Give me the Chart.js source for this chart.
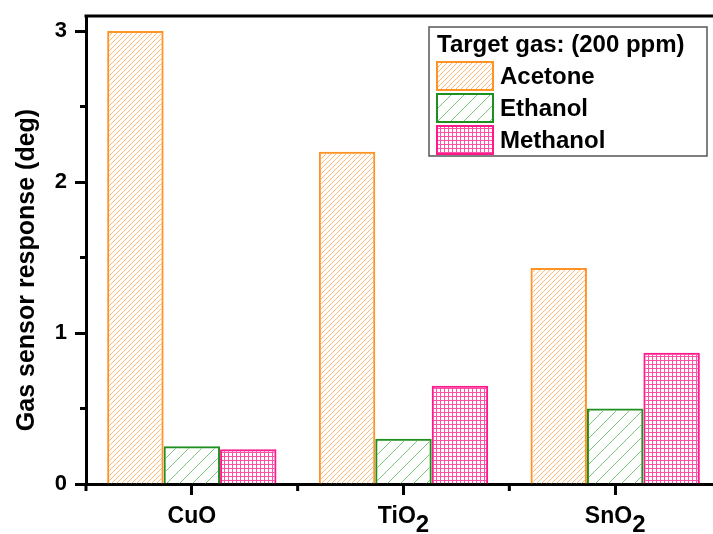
<!DOCTYPE html>
<html>
<head>
<meta charset="utf-8">
<script src="https://cdn.jsdelivr.net/npm/chart.js@4/dist/chart.umd.min.js"></script>
<style>
    html, body { margin: 0; padding: 0; background: #fff; overflow: hidden; }
    canvas { display: block; }
</style>
</head>
<body>
<canvas id="gasChart" width="722" height="534"></canvas>
<script>
// --- data ---
const categories = ['CuO', 'TiO2', 'SnO2'];
const seriesNames = ['Acetone', 'Ethanol', 'Methanol'];
const acetone = [3.0, 2.2, 1.43];
const ethanol = [0.25, 0.30, 0.50];
const methanol = [0.23, 0.65, 0.87];
const yTicks = [0, 1, 2, 3];
const yMinorTicks = [0.5, 1.5, 2.5];
const yMax = 3.1;
const legendTitle = 'Target gas: (200 ppm)';
const yTitle = 'Gas sensor response (deg)';

const FONT = '"Liberation Sans", Arial, sans-serif';

function makePattern(kind, color, size) {
    const c = document.createElement('canvas');
    c.width = size; c.height = size;
    const g = c.getContext('2d');
    g.strokeStyle = color;
    g.lineWidth = 1;
    if (kind === 'diag') {
        g.beginPath();
        g.moveTo(-1, size + 1); g.lineTo(size + 1, -1);
        g.moveTo(-1, 1); g.lineTo(1, -1);
        g.moveTo(size - 1, size + 1); g.lineTo(size + 1, size - 1);
        g.stroke();
    } else {
        g.fillStyle = color;
        g.fillRect(0, 0, size, 1);
        g.fillRect(0, 0, 1, size);
    }
    return g.createPattern(c, 'repeat');
}

const colors = {
    acetone: { border: '#ff9326', fill: makePattern('diag', '#ffbb77', 5) },
    ethanol: { border: '#1f8f1f', fill: makePattern('diag', '#7cc47c', 13) },
    methanol: { border: '#ff1a8c', fill: makePattern('grid', '#ff4fa6', 4) }
};

// y title, legend box, minor ticks, top frame, subscripted x labels
const extras = {
    id: 'extras',
    afterDraw(chart) {
        const ctx = chart.ctx;
        const a = chart.chartArea;
        const xs = chart.scales.x, ys = chart.scales.y;
        ctx.save();
        ctx.strokeStyle = '#000';
        ctx.lineWidth = 3;
        ctx.beginPath();
        ctx.moveTo(a.left - 1.5, a.top);
        ctx.lineTo(a.right, a.top);
        ctx.lineTo(a.right, a.bottom);
        ctx.stroke();

        // minor ticks
        ctx.beginPath();
        yMinorTicks.forEach(v => {
            const y = ys.getPixelForValue(v);
            ctx.moveTo(a.left - 6, y); ctx.lineTo(a.left, y);
        });
        for (let i = -1; i < categories.length; i++) {
            const x = xs.getPixelForValue(i + 0.5);
            ctx.moveTo(x, a.bottom); ctx.lineTo(x, a.bottom + 7);
        }
        ctx.stroke();

        // x labels with subscripts
        ctx.fillStyle = '#000';
        ctx.textBaseline = 'alphabetic';
        ctx.textAlign = 'left';
        categories.forEach((lab, i) => {
            const m = lab.match(/^(.*?)(\d*)$/);
            ctx.font = 'bold 23px ' + FONT;
            const w1 = ctx.measureText(m[1]).width;
            ctx.font = 'bold 24px ' + FONT;
            const w2 = m[2] ? ctx.measureText(m[2]).width : 0;
            const cx = xs.getPixelForValue(i);
            const x0 = cx - (w1 + w2) / 2;
            ctx.font = 'bold 23px ' + FONT;
            ctx.fillText(m[1], x0, 523);
            if (m[2]) {
                ctx.font = 'bold 24px ' + FONT;
                ctx.fillText(m[2], x0 + w1, 532);
            }
        });

        // y title
        ctx.save();
        ctx.translate(27, 270);
        ctx.rotate(-Math.PI / 2);
        ctx.font = 'bold 25px ' + FONT;
        ctx.textAlign = 'center';
        ctx.textBaseline = 'middle';
        ctx.fillText(yTitle, 0, 0);
        ctx.restore();

        // legend
        ctx.fillStyle = '#fff';
        ctx.fillRect(429, 27, 278, 129);
        ctx.strokeStyle = '#555';
        ctx.lineWidth = 1.5;
        ctx.strokeRect(429, 27, 278, 129);
        ctx.fillStyle = '#000';
        ctx.font = 'bold 24px ' + FONT;
        ctx.textAlign = 'left';
        ctx.fillText(legendTitle, 437, 52);
        chart.data.datasets.forEach((ds, i) => {
            const top = 62 + i * 32;
            ctx.fillStyle = ds.backgroundColor;
            ctx.fillRect(437, top, 56, 28);
            ctx.strokeStyle = ds.borderColor;
            ctx.lineWidth = 2;
            ctx.strokeRect(437, top, 56, 28);
            ctx.fillStyle = '#000';
            ctx.fillText(ds.label, 500, top + 22);
        });
        ctx.restore();
    }
};

new Chart(document.getElementById('gasChart'), {
    type: 'bar',
    data: {
        labels: categories,
        datasets: [
            { label: seriesNames[0], data: acetone, backgroundColor: colors.acetone.fill, borderColor: colors.acetone.border },
            { label: seriesNames[1], data: ethanol, backgroundColor: colors.ethanol.fill, borderColor: colors.ethanol.border },
            { label: seriesNames[2], data: methanol, backgroundColor: colors.methanol.fill, borderColor: colors.methanol.border }
        ]
    },
    options: {
        responsive: false,
        animation: false,
        devicePixelRatio: 1,
        layout: { padding: { top: 16, left: 0, right: 1, bottom: 0 } },
        datasets: {
            bar: { borderWidth: 2, categoryPercentage: 0.8, barPercentage: 1.0, borderSkipped: 'start' }
        },
        scales: {
            x: {
                z: 1,
                afterFit: s => { s.height = 50; s.paddingLeft = 0; s.paddingRight = 0; },
                grid: { offset: false, drawOnChartArea: false, drawTicks: true, tickLength: 11, tickWidth: 3, tickColor: '#000' },
                border: { display: true, width: 3, color: '#000' },
                ticks: { display: false }
            },
            y: {
                min: 0,
                max: yMax,
                z: 1,
                afterFit: s => { s.width = 86; s.paddingTop = 0; s.paddingBottom = 0; },
                afterBuildTicks: s => { s.ticks = yTicks.map(v => ({ value: v })); },
                grid: { drawOnChartArea: false, drawTicks: true, tickLength: 11, tickWidth: 3, tickColor: '#000' },
                border: { display: true, width: 3, color: '#000' },
                ticks: { color: '#000', padding: 8, font: { family: FONT, size: 22, weight: 'bold' } }
            }
        },
        plugins: {
            legend: { display: false },
            tooltip: { enabled: false }
        }
    },
    plugins: [extras]
});
</script>
</body>
</html>
